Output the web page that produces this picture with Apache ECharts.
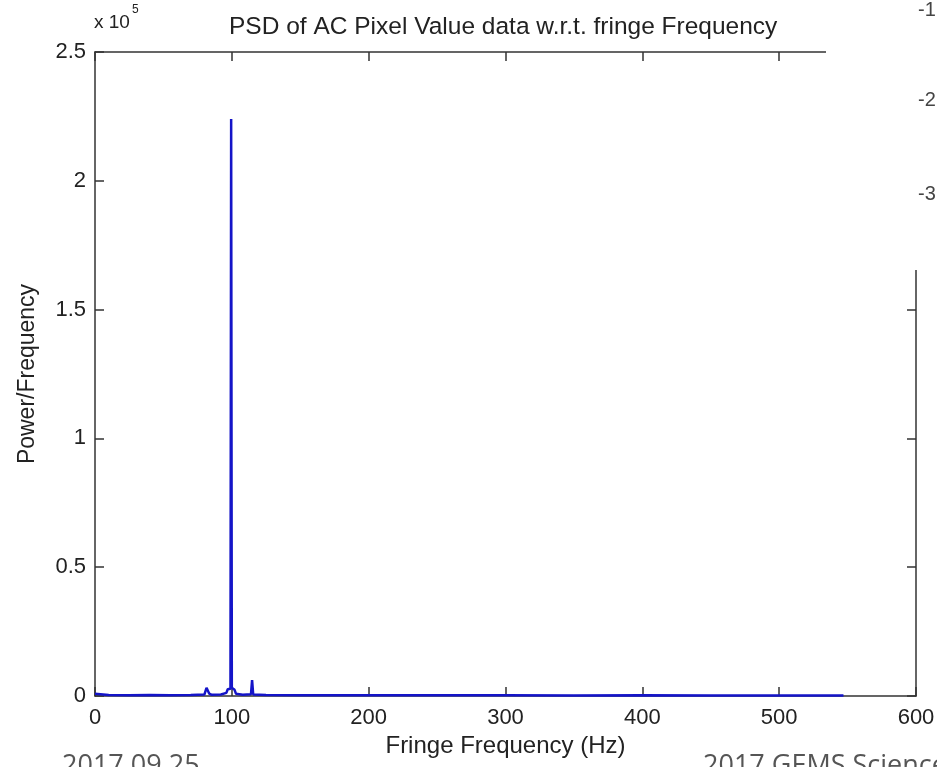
<!DOCTYPE html>
<html>
<head>
<meta charset="utf-8">
<script src="https://cdn.jsdelivr.net/npm/echarts@6/dist/echarts.min.js"></script>
<style>
html,body{margin:0;padding:0;background:#fff;}
#chart{width:937px;height:767px;}
</style>
</head>
<body>
<div id="chart"></div>
<script>
// Data
var freqHz = [0, 10, 25, 40, 55, 70, 80, 81.5, 82.5, 83.5, 85, 92, 96, 97, 98, 99, 99.5, 100, 101, 102, 103, 108, 114, 114.8, 115.6, 125, 150, 200, 250, 300, 350, 400, 450, 500, 547];
var psdValues = [900, 400, 300, 350, 300, 400, 600, 3200, 2600, 900, 500, 600, 1200, 2600, 3000, 2800, 224000, 3200, 2900, 2400, 900, 500, 700, 6200, 600, 400, 300, 250, 300, 250, 200, 250, 200, 200, 150];
var yTickLabels = ['0', '0.5', '1', '1.5', '2', '2.5'];
var titleText = 'PSD of AC Pixel Value data w.r.t. fringe Frequency';
var xName = 'Fringe Frequency (Hz)';
var yName = 'Power/Frequency';
var sideLabels = ['-1', '-2', '-3'];
var footerLeft = '2017.09.25';
var footerRight = '2017 GEMS Science';

var FONT = 'Liberation Sans, Arial, sans-serif';
var points = freqHz.map(function (f, i) { return [f, psdValues[i]]; });

var axisLine = {show: true, onZero: false, lineStyle: {color: '#333', width: 1.5}};
var tickIn = {show: true, inside: true, length: 9, lineStyle: {color: '#333', width: 1.5}};

var chart = echarts.init(document.getElementById('chart'));
chart.setOption({
  backgroundColor: '#fff',
  animation: false,
  title: {
    text: titleText,
    left: 224, top: 10,
    textStyle: {fontFamily: FONT, fontSize: 24.5, fontWeight: 'normal', color: '#222'}
  },
  grid: {left: 95, top: 52, right: 21, bottom: 71, containLabel: false, outerBoundsMode: 'none'},
  xAxis: [{
    type: 'value', min: 0, max: 600, interval: 100, position: 'bottom',
    axisLine: axisLine, axisTick: tickIn, splitLine: {show: false},
    axisLabel: {fontFamily: FONT, fontSize: 22, color: '#222', margin: 11},
    name: xName, nameLocation: 'middle', nameGap: 38,
    nameTextStyle: {fontFamily: FONT, fontSize: 24, color: '#222'}
  }, {
    type: 'value', min: 0, max: 600, interval: 100, position: 'top',
    axisLine: axisLine, axisTick: tickIn, splitLine: {show: false},
    axisLabel: {show: false}
  }],
  yAxis: [{
    type: 'value', min: 0, max: 250000, interval: 50000, position: 'left',
    axisLine: axisLine, axisTick: tickIn, splitLine: {show: false},
    axisLabel: {fontFamily: FONT, fontSize: 22, color: '#222', margin: 9,
      formatter: function (v) { return yTickLabels[Math.round(v / 50000)]; }},
    name: yName, nameLocation: 'middle', nameGap: 56,
    nameTextStyle: {fontFamily: FONT, fontSize: 23, color: '#222'}
  }, {
    type: 'value', min: 0, max: 250000, interval: 50000, position: 'right',
    axisLine: axisLine, axisTick: tickIn, splitLine: {show: false},
    axisLabel: {show: false}
  }],
  series: [{
    type: 'line', xAxisIndex: 0, yAxisIndex: 0,
    data: points, showSymbol: false, symbol: 'none',
    lineStyle: {color: '#1414c8', width: 2.5},
    z: 3
  }],
  graphic: [
    {type: 'rect', z: 100, shape: {x: 826, y: 0, width: 111, height: 270}, style: {fill: '#fff'}},
    {type: 'text', z: 101, left: 94, top: 4, style: {
      text: '{b|x 10}{s|5}', rich: {
        b: {fontFamily: FONT, fontSize: 19, fill: '#222', verticalAlign: 'bottom', lineHeight: 28},
        s: {fontFamily: FONT, fontSize: 12, fill: '#222', verticalAlign: 'top', padding: [0, 0, 14, 2], lineHeight: 28}
      }}},
    {type: 'text', z: 101, left: 918, top: 0, style: {text: sideLabels[0], fontFamily: FONT, fontSize: 20, fill: '#444'}},
    {type: 'text', z: 101, left: 918, top: 90, style: {text: sideLabels[1], fontFamily: FONT, fontSize: 20, fill: '#444'}},
    {type: 'text', z: 101, left: 918, top: 184, style: {text: sideLabels[2], fontFamily: FONT, fontSize: 20, fill: '#444'}},
    {type: 'text', z: 101, left: 62, top: 753, style: {text: footerLeft, fontFamily: 'Open Sans, sans-serif', fontSize: 27, fill: '#555'}},
    {type: 'text', z: 101, left: 703, top: 753, style: {text: footerRight, fontFamily: 'Open Sans, sans-serif', fontSize: 27, fill: '#555'}}
  ]
});
</script>
</body>
</html>
